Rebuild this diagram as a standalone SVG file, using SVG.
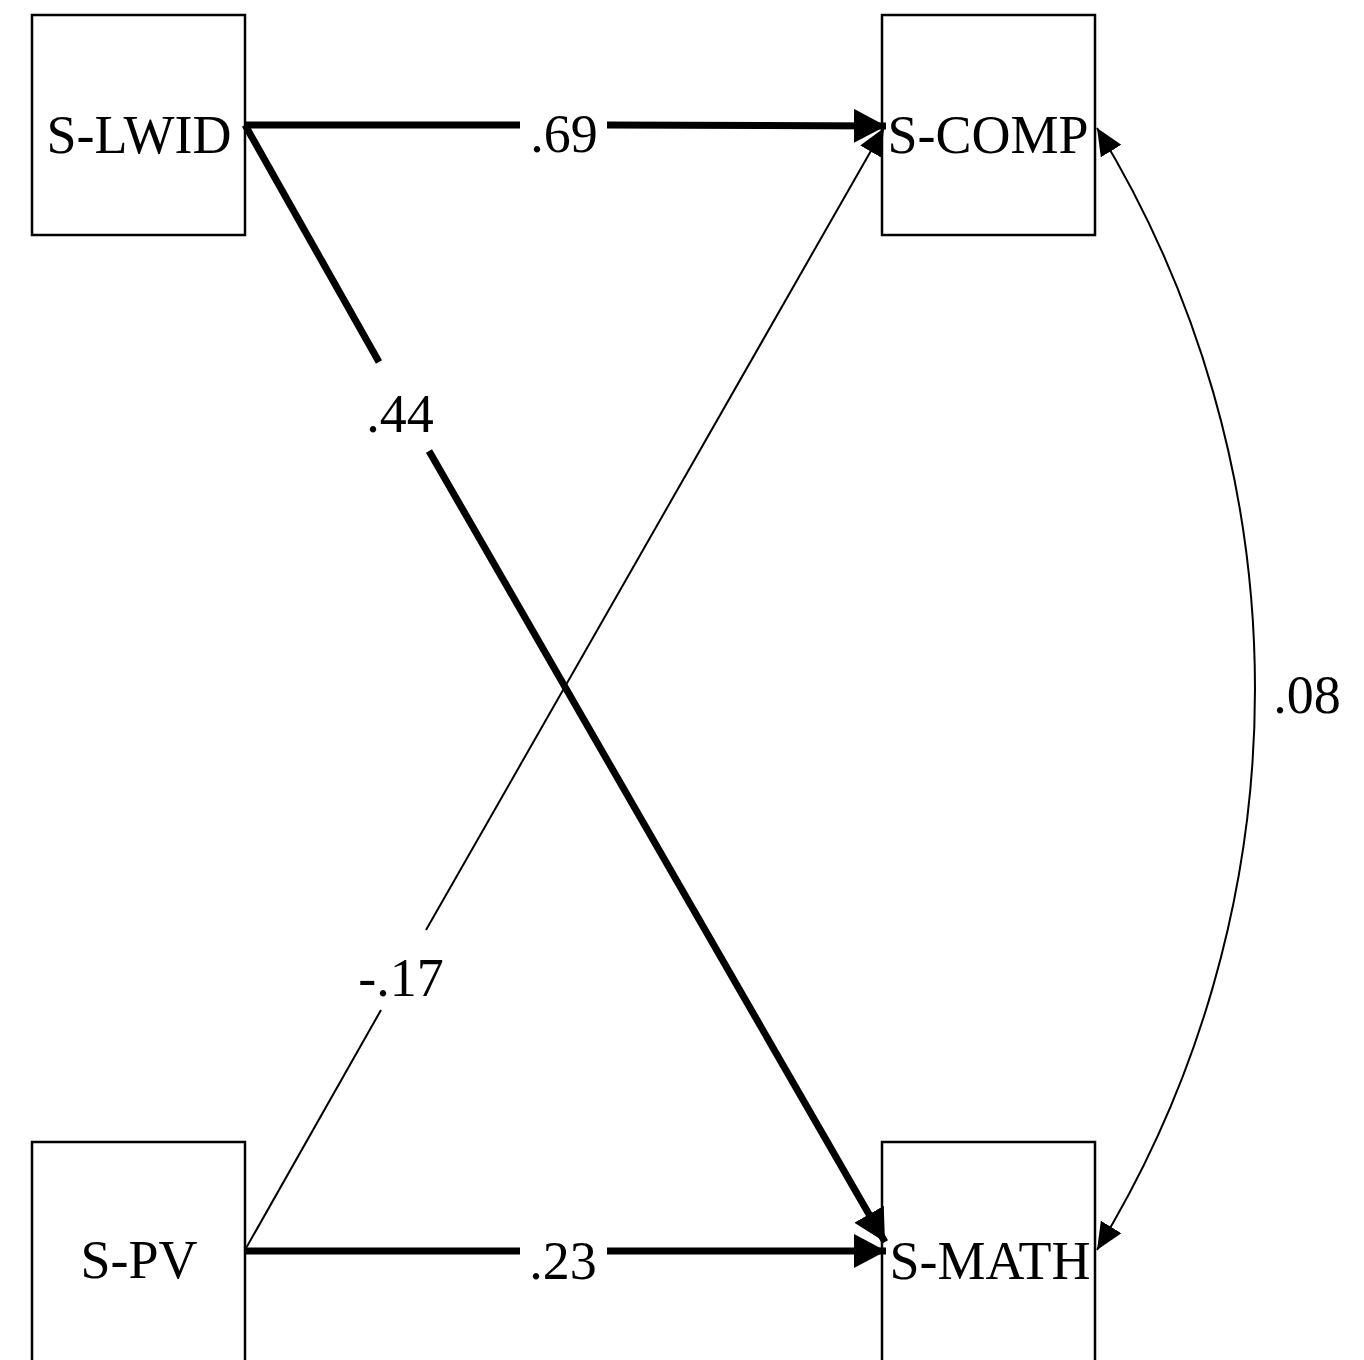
<svg xmlns="http://www.w3.org/2000/svg" width="1364" height="1360" viewBox="0 0 1364 1360">
<style>
.box{fill:#fff;stroke:#000;stroke-width:2.5}
.lbl{font-family:"Liberation Serif","Times New Roman",serif;font-size:54px;fill:#000;text-anchor:middle}
.thick{fill:none;stroke:#000;stroke-width:7}
.thin{fill:none;stroke:#000;stroke-width:2}
</style>
<defs>
<marker id="ah" markerUnits="userSpaceOnUse" markerWidth="36" markerHeight="36" refX="32" refY="17" orient="auto"><path d="M0,0 L32,17 L0,34 z" fill="#000"/></marker>
<marker id="ahs" markerUnits="userSpaceOnUse" markerWidth="30" markerHeight="30" refX="27" refY="12" orient="auto-start-reverse"><path d="M0,0 L27,12 L0,24 z" fill="#000"/></marker>
</defs>
<rect width="1364" height="1360" fill="#fff"/>
<g id="S-LWID"><rect class="box" x="32" y="15" width="213" height="220"/><text class="lbl" x="139" y="153">S-LWID</text></g>
<g id="S-COMP"><rect class="box" x="882" y="15" width="213" height="220"/><text class="lbl" x="988" y="153">S-COMP</text></g>
<g id="S-PV"><rect class="box" x="32" y="1142" width="213" height="225"/><text class="lbl" x="139" y="1278">S-PV</text></g>
<g id="S-MATH"><rect class="box" x="882" y="1142" width="213" height="225"/><text class="lbl" x="990" y="1279">S-MATH</text></g>
<g id="connectors">
<line class="thick" x1="245" y1="125" x2="520" y2="125"/>
<line class="thick" x1="607" y1="125" x2="886" y2="126" marker-end="url(#ah)"/>
<text class="lbl" x="564" y="152">.69</text>
<line class="thick" x1="245" y1="125" x2="379" y2="362"/>
<line class="thick" x1="429" y1="451" x2="885" y2="1242" marker-end="url(#ah)"/>
<text class="lbl" x="400" y="432">.44</text>
<line class="thin" x1="245" y1="1250" x2="381" y2="1010"/>
<line class="thin" x1="426" y1="930" x2="884" y2="128" marker-end="url(#ahs)"/>
<text class="lbl" x="401" y="996">-.17</text>
<line class="thick" x1="245" y1="1251" x2="520" y2="1251"/>
<line class="thick" x1="607" y1="1251" x2="886" y2="1251" marker-end="url(#ah)"/>
<text class="lbl" x="563" y="1279">.23</text>
<path class="thin" d="M1097,128 A1075,1075 0 0 1 1097,1250" marker-start="url(#ahs)" marker-end="url(#ahs)"/>
<text class="lbl" x="1307" y="713">.08</text>
</g>
</svg>
